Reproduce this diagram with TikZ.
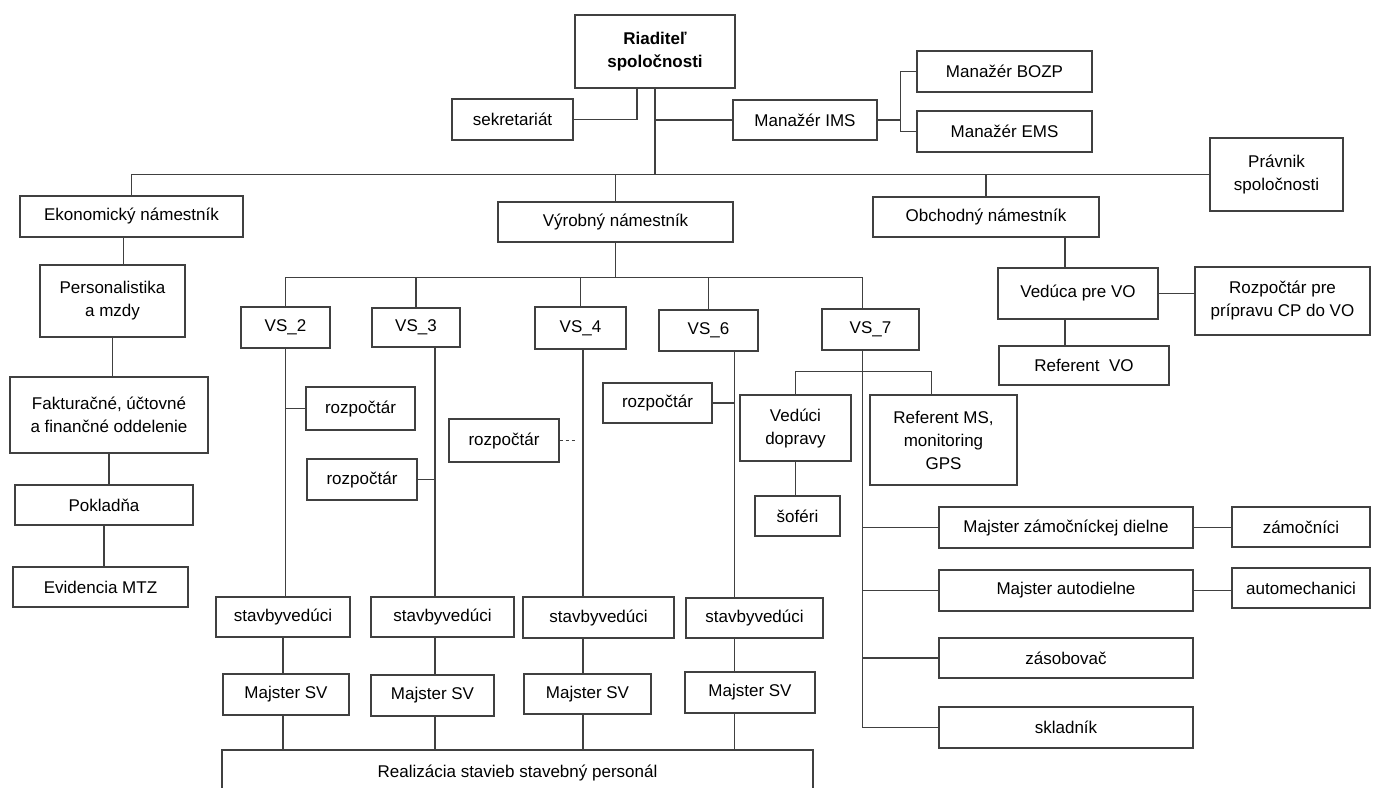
\documentclass[tikz,border=0pt]{standalone}
\usepackage{fontspec}
\setmainfont{Liberation Sans}
\begin{document}
\begin{tikzpicture}[x=1pt,y=-1pt,
    box/.style 2 args={draw=black!75,line width=1.1pt,align=center,inner sep=0pt,minimum width=#1,minimum height=#2},
    wire/.style={draw=black!75,line width=1.1pt}]
    \fontsize{17}{23}\selectfont
    \useasboundingbox[fill=white] (0,0) rectangle (1373,787);
    \node[box={160pt}{73pt},font=\bfseries] (ceo) at (655,51.5) {Riaditeľ\\spoločnosti};
    \node[box={121pt}{41pt}] (sekr) at (512.5,119.5) {sekretariát};
    \node[box={144pt}{40pt}] (ims) at (805,120) {Manažér IMS};
    \node[box={175pt}{41pt}] (bozp) at (1004.5,71.5) {Manažér BOZP};
    \node[box={175pt}{41pt}] (ems) at (1004.5,131.5) {Manažér EMS};
    \node[box={133pt}{73pt}] (prav) at (1276.5,174.5) {Právnik\\spoločnosti};
    \node[box={223pt}{41pt}] (ekon) at (131.5,216.5) {Ekonomický námestník};
    \node[box={235pt}{40pt}] (vyr) at (615.5,222) {Výrobný námestník};
    \node[box={226pt}{40pt}] (obch) at (986,217) {Obchodný námestník};
    \node[box={145pt}{72pt}] (pers) at (112.5,301) {Personalistika\\a mzdy};
    \node[box={198pt}{76pt}] (fakt) at (109,415) {Fakturačné, účtovné\\a finančné oddelenie};
    \node[box={178pt}{40pt}] (pokl) at (104,505) {Pokladňa};
    \node[box={175pt}{40pt}] (mtz) at (100.5,587) {Evidencia MTZ};
    \node[box={160pt}{51pt}] (vedvo) at (1078,293.5) {Vedúca pre VO};
    \node[box={175pt}{68pt}] (rozcp) at (1282.5,301) {Rozpočtár pre\\prípravu CP do VO};
    \node[box={170pt}{39pt}] (refvo) at (1084,365.5) {Referent~ VO};
    \node[box={89pt}{41pt},line width=1.6pt] (vs2) at (285.5,327.5) {VS\_2};
    \node[box={88pt}{39pt}] (vs3) at (416,327.5) {VS\_3};
    \node[box={91pt}{42pt}] (vs4) at (580.5,328) {VS\_4};
    \node[box={99pt}{41pt}] (vs6) at (708.5,330.5) {VS\_6};
    \node[box={97pt}{41pt}] (vs7) at (870.5,329.5) {VS\_7};
    \node[box={109pt}{43pt}] (rozp1) at (360.5,408.5) {rozpočtár};
    \node[box={110pt}{41pt}] (rozp2) at (362,479.5) {rozpočtár};
    \node[box={110pt}{43pt}] (rozp3) at (504,440.5) {rozpočtár};
    \node[box={109pt}{40pt}] (rozp4) at (657.5,403) {rozpočtár};
    \node[box={134pt}{40pt}] (sv1) at (283,617) {stavbyvedúci};
    \node[box={143pt}{40pt}] (sv2) at (442.5,617) {stavbyvedúci};
    \node[box={151pt}{41pt}] (sv3) at (598.5,617.5) {stavbyvedúci};
    \node[box={137pt}{40pt}] (sv4) at (754.5,618) {stavbyvedúci};
    \node[box={126pt}{41pt}] (msv1) at (286,694.5) {Majster SV};
    \node[box={123pt}{41pt}] (msv2) at (432.5,695.5) {Majster SV};
    \node[box={127pt}{40pt}] (msv3) at (587.5,694) {Majster SV};
    \node[box={130pt}{41pt}] (msv4) at (750,692.5) {Majster SV};
    \node[box={591pt}{46pt}] (real) at (517.5,773) {Realizácia stavieb stavebný personál};
    \node[box={111pt}{66pt}] (veddop) at (795.5,428) {Vedúci\\dopravy};
    \node[box={147pt}{90pt}] (refms) at (943.5,440) {Referent MS,\\monitoring\\GPS};
    \node[box={85pt}{40pt}] (sofer) at (797.5,516) {šoféri};
    \node[box={254pt}{41pt}] (mzd) at (1066,527.5) {Majster zámočníckej dielne};
    \node[box={138pt}{40pt}] (zamoc) at (1301,527) {zámočníci};
    \node[box={254pt}{41pt}] (mad) at (1066,590.5) {Majster autodielne};
    \node[box={138pt}{40pt}] (amech) at (1301,588) {automechanici};
    \node[box={254pt}{40pt}] (zasob) at (1066,658) {zásobovač};
    \node[box={254pt}{41pt}] (sklad) at (1066,727.5) {skladník};
    \draw[wire] ([xshift=-18pt]ceo.south) |- (sekr.east);
    \draw[wire] (ceo.south) -- (ceo.south |- prav.west);
    \draw[wire] (ceo.south |- ims.west) -- (ims.west);
    \draw[wire] (ims.east) -- ++(23,0) coordinate (imsj);
    \draw[wire] (bozp.west) -| (imsj) |- (ems.west);
    \draw[wire] (ekon.north) |- (prav.west);
    \draw[wire] (vyr.north) -- (vyr.north |- prav.west);
    \draw[wire] (obch.north) -- (obch.north |- prav.west);
    \coordinate (ej) at ([xshift=-8pt]ekon.south);
    \draw[wire] (ej) -- (ej |- pers.north);
    \draw[wire] (pers.south) -- (pers.south |- fakt.north);
    \draw[wire] (fakt.south) -- (fakt.south |- pokl.north);
    \draw[wire] (pokl.south) -- (pokl.south |- mtz.north);
    \coordinate (vo) at ([xshift=-13pt]vedvo.north);
    \draw[wire] (vo |- obch.south) -- (vo);
    \draw[wire] (vo |- vedvo.south) -- (vo |- refvo.north);
    \draw[wire] (vedvo.east) -- (vedvo.east -| rozcp.west);
    \coordinate (c3) at ([xshift=19pt]vs3.south);
    \coordinate (c4) at ([xshift=2.5pt]vs4.south);
    \coordinate (c6) at ([xshift=26pt]vs6.south);
    \coordinate (c7) at ([xshift=-8pt]vs7.south);
    \draw[wire] (vyr.south) -- ++(0,35) coordinate (vb);
    \draw[wire] (vs2.north) |- (vb) -| (c7 |- vs7.north);
    \draw[wire] (vs3.north) -- (vs3.north |- vb);
    \draw[wire] (vs4.north) -- (vs4.north |- vb);
    \draw[wire] (vs6.north) -- (vs6.north |- vb);
    \draw[wire] (vs2.south) -- (vs2.south |- sv1.north);
    \draw[wire] (rozp1.west) -- (rozp1.west -| vs2.south);
    \draw[wire] (sv1.south) -- (sv1.south |- msv1.north);
    \draw[wire] (sv1.south |- msv1.south) -- (sv1.south |- real.north);
    \draw[wire] (c3) -- (c3 |- sv2.north);
    \draw[wire] (rozp2.east) -- (rozp2.east -| c3);
    \draw[wire] (c3 |- sv2.south) -- (c3 |- msv2.north);
    \draw[wire] (c3 |- msv2.south) -- (c3 |- real.north);
    \draw[wire] (c4) -- (c4 |- sv3.north);
    \draw[wire,dashed] (rozp3.east) -- ++(17,0) coordinate (r3);
    \draw[wire] (c4 |- sv3.south) -- (c4 |- msv3.north);
    \draw[wire] (c4 |- msv3.south) -- (c4 |- real.north);
    \draw[wire] (c6) -- (c6 |- sv4.north);
    \draw[wire] (rozp4.east) -- (rozp4.east -| c6);
    \draw[wire] (c6 |- sv4.south) -- (c6 |- msv4.north);
    \draw[wire] (c6 |- msv4.south) -- (c6 |- real.north);
    \coordinate (rm) at ([xshift=-12pt]refms.north);
    \draw[wire] (c7) -- (c7 |- sklad.west);
    \draw[wire] (veddop.north) -- ++(0,-23) -| (rm);
    \draw[wire] (veddop.south) -- (veddop.south |- sofer.north);
    \draw[wire] (c7 |- mzd.west) -- (mzd.west);
    \draw[wire] (c7 |- mad.west) -- (mad.west);
    \draw[wire] (c7 |- zasob.west) -- (zasob.west);
    \draw[wire] (c7 |- sklad.west) -- (sklad.west);
    \draw[wire] (mzd.east) -- (mzd.east -| zamoc.west);
    \draw[wire] (mad.east) -- (mad.east -| amech.west);
\end{tikzpicture}
\end{document}
